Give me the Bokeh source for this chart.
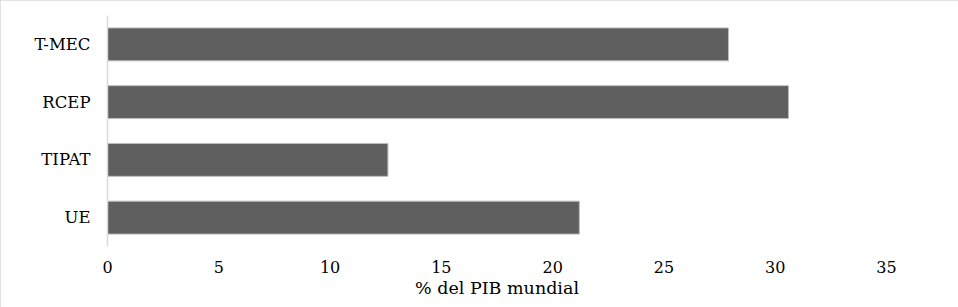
from bokeh.plotting import figure
from bokeh.models import FactorRange, Range1d, FixedTicker, ColumnDataSource
from bokeh.embed import file_html
from bokeh.resources import INLINE

categories = ["UE", "TIPAT", "RCEP", "T-MEC"]
values = [21.2, 12.6, 30.6, 27.9]
x_ticks = [0, 5, 10, 15, 20, 25, 30, 35]
x_title = "% del PIB mundial"

FONT = "DejaVu Serif"

src = ColumnDataSource(dict(cat=categories, val=values))

p = figure(width=958, height=307, output_backend="svg", toolbar_location=None,
           y_range=FactorRange(factors=categories, range_padding=0),
           x_range=Range1d(0, 35),
           min_border_left=107, min_border_right=72, min_border_top=15, min_border_bottom=61)

p.hbar(y="cat", right="val", left=0, height=0.57, source=src,
       fill_color="#5f5f5f", line_color="#bdbdbd", line_width=1)

p.outline_line_color = None
p.xgrid.visible = False
p.ygrid.visible = False
p.background_fill_color = "white"
p.border_fill_color = "white"

xa = p.xaxis[0]
xa.ticker = FixedTicker(ticks=x_ticks)
xa.axis_line_color = None
xa.major_tick_line_color = None
xa.minor_tick_line_color = None
xa.major_tick_out = 0
xa.major_tick_in = 0
xa.major_label_standoff = 14
xa.major_label_text_font = FONT
xa.major_label_text_font_size = "16px"
xa.major_label_text_color = "#000000"
xa.axis_label = x_title
xa.axis_label_text_font = FONT
xa.axis_label_text_font_style = "normal"
xa.axis_label_text_font_size = "17.5px"
xa.axis_label_text_color = "#000000"
xa.axis_label_standoff = 2

ya = p.yaxis[0]
ya.axis_line_color = "#d9d9d9"
ya.axis_line_width = 1.5
ya.major_tick_line_color = None
ya.minor_tick_line_color = None
ya.major_tick_out = 0
ya.major_tick_in = 0
ya.major_label_standoff = 17
ya.major_label_text_font = FONT
ya.major_label_text_font_size = "16.5px"
ya.major_label_text_color = "#000000"

p.styles = {"outline": "2px solid #d9d9d9", "outline-offset": "-2px"}

open("out.html", "w").write(file_html(p, INLINE))
